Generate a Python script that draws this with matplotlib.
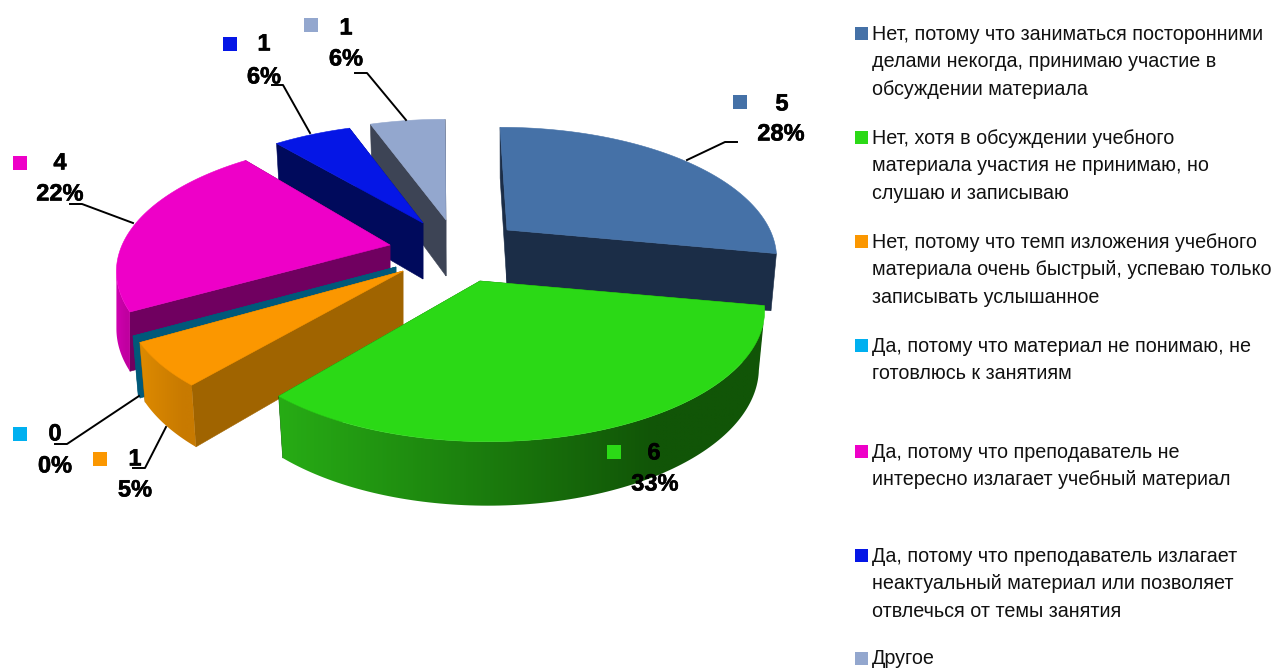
# 3D-kakediagram tegnet med matplotlib-polygoner
import matplotlib
matplotlib.use("Agg")
import matplotlib.pyplot as plt
import matplotlib.font_manager as fm
import matplotlib.patheffects as pe
import numpy as np
from matplotlib.patches import Polygon, Rectangle
from matplotlib.colors import to_rgb

# Data
categories = [
    "Нет, потому что заниматься посторонними\nделами некогда, принимаю участие в\nобсуждении материала",
    "Нет, хотя в обсуждении учебного\nматериала участия не принимаю, но\nслушаю и записываю",
    "Нет, потому что темп изложения учебного\nматериала очень быстрый, успеваю только\nзаписывать услышанное",
    "Да, потому что материал не понимаю, не\nготовлюсь к занятиям",
    "Да, потому что преподаватель не\nинтересно излагает учебный материал",
    "Да, потому что преподаватель излагает\nнеактуальный материал или позволяет\nотвлечься от темы занятия",
    "Другое",
]
counts = [5, 6, 1, 0, 4, 1, 1]
percent_labels = ["28%", "33%", "5%", "0%", "22%", "6%", "6%"]
shares = [27.9, 33.3, 5.3, 0.3, 22.2, 5.6, 5.4]

# Farger
top_colors = ["#4571A7", "#2BD916", "#FB9700", "#00597A", "#EE00C8", "#0516E6", "#93A7CE"]
marker_colors = ["#4571A7", "#2BD916", "#FB9700", "#00B0F0", "#EE00C8", "#0516E6", "#93A7CE"]
radial_colors = ["#1B2D47", "#125807", "#A06400", "#00597A", "#700060", "#000A5C", "#3D4455"]
rim_left = ["#1B2D47", "#27AC15", "#DD8A00", "#00597A", "#D000B0", "#000A5C", "#3D4455"]
rim_right = ["#1B2D47", "#115507", "#C87A00", "#00597A", "#C000A0", "#000A5C", "#3D4455"]

# Plassering i piksler: spissen til hver sektor, buens forskyvning, etiketter og forklaring
apex = [(507, 230), (480, 281), (403, 271), (396, 267), (390, 245), (423, 223), (446, 220)]
arc_shift = [(-7, 0), (8, 1), (-2, 0), (0, 0), (3, -2), (1, 3), (-1, 2)]
bottom_scale = [0.98, 0.98, 0.98, 0.98, 1.0, 0.98, 0.98]
marker_pos = [(740, 102), (614, 452), (100, 459), (20, 434), (20, 163), (230, 44), (311, 25)]
value_pos = [(782, 104), (654, 453), (135, 459), (55, 434), (60, 163), (264, 44), (346, 28)]
percent_pos = [(781, 134), (655, 484), (135, 490), (55, 466), (60, 194), (264, 77), (346, 59)]
leaders = [
    [(687, 160), (725, 142), (737, 142)],
    None,
    [(166, 427), (145, 468), (133, 468)],
    [(139, 396), (67, 444), (55, 444)],
    [(133, 223), (82, 204), (70, 204)],
    [(310, 133), (283, 85), (272, 85)],
    [(406, 120), (367, 73), (355, 73)],
]
legend_y = [33, 137, 241, 345, 451, 555, 658]

RX, RY, K = 270, 125, 0.217
H = 56
LINE = 27.6

available = {f.name for f in fm.fontManager.ttflist}
narrow = "Liberation Sans Narrow" if "Liberation Sans Narrow" in available else "Liberation Sans"


def top_point(i, theta):
    s = 1 / (1 + K * np.cos(theta))
    a, d = apex[i], arc_shift[i]
    return a[0] + d[0] + RX * np.sin(theta) * s, a[1] + d[1] - RY * np.cos(theta) * s


def bottom_point(i, theta):
    a = apex[i]
    x, y = top_point(i, theta)
    return a[0] + (x - a[0]) * bottom_scale[i], a[1] + (y - a[1]) * 1.05 + H


fig = plt.figure(figsize=(12.75, 6.68), dpi=100)
ax = fig.add_axes([0, 0, 1, 1])

edges = np.cumsum([0] + shares) / sum(shares) * 2 * np.pi
circle = np.linspace(0, 2 * np.pi, 1441)
circle_x = RX * np.sin(circle) / (1 + K * np.cos(circle))
t_right, t_left = circle[np.argmax(circle_x)], circle[np.argmin(circle_x)]
z = 1

# Tegn bakerst til forrest
for i in [6, 5, 0, 4, 3, 2, 1]:
    a = apex[i]
    t0, t1 = edges[i], edges[i + 1]
    ts = np.linspace(t0, t1, 120)
    for t in [t1, t0]:
        quad = [a, top_point(i, t), bottom_point(i, t), (a[0], a[1] + H)]
        z += 1
        ax.add_patch(Polygon(quad, closed=True, fc=radial_colors[i], ec=radial_colors[i], lw=0.4, zorder=z))

    # Ytterkant med fargeovergang, bare den delen som vender mot betrakteren
    front = ts[(ts >= t_right) & (ts <= t_left)]
    if len(front) > 1:
        rim = [top_point(i, t) for t in front] + [bottom_point(i, t) for t in front[::-1]]
        rx = np.array([p[0] for p in rim])
        ry = np.array([p[1] for p in rim])
        c0, c1 = np.array(to_rgb(rim_left[i])), np.array(to_rgb(rim_right[i]))
        f = np.clip(np.linspace(0, 1, 256) * 1.3, 0, 1)[None, :, None]
        grad = c0[None, None, :] + (c1 - c0)[None, None, :] * f
        z += 1
        rim_patch = Polygon(rim, closed=True, fc="none", ec="none", transform=ax.transData)
        ax.add_patch(rim_patch)
        im = ax.imshow(grad, extent=[rx.min(), rx.max(), ry.max(), ry.min()], aspect="auto",
                       interpolation="bilinear", zorder=z)
        im.set_clip_path(rim_patch)

    z += 1
    pts = [a] + [top_point(i, t) for t in ts]
    ax.add_patch(Polygon(pts, closed=True, fc=top_colors[i], ec=top_colors[i], lw=0.4, zorder=z))

ax.set_xlim(0, 1275)
ax.set_ylim(668, 0)
ax.axis("off")

# Etiketter med linjer
bold = [pe.withStroke(linewidth=0.4, foreground="black")]
for i in range(len(counts)):
    mx, my = marker_pos[i]
    ax.add_patch(Rectangle((mx - 7, my - 7), 14, 14, fc=marker_colors[i], ec="none", zorder=50))
    if leaders[i] is not None:
        ax.plot(*zip(*leaders[i]), color="black", lw=1.4, zorder=50)
    ax.text(*value_pos[i], str(counts[i]), family=narrow, weight="bold", fontsize=17,
            ha="center", va="center", zorder=60, path_effects=bold)
    ax.text(*percent_pos[i], percent_labels[i], family=narrow, weight="bold", fontsize=17,
            ha="center", va="center", zorder=60, path_effects=bold)

# Forklaring
for i, txt in enumerate(categories):
    ax.add_patch(Rectangle((855, legend_y[i] - 6), 13, 13, fc=marker_colors[i], ec="none"))
    for j, line in enumerate(txt.split("\n")):
        ax.text(872, legend_y[i] + 1 + j * LINE, line, family=narrow, fontsize=14.2,
                ha="left", va="center", color="#111111")

fig.savefig("out.png", dpi=100)
